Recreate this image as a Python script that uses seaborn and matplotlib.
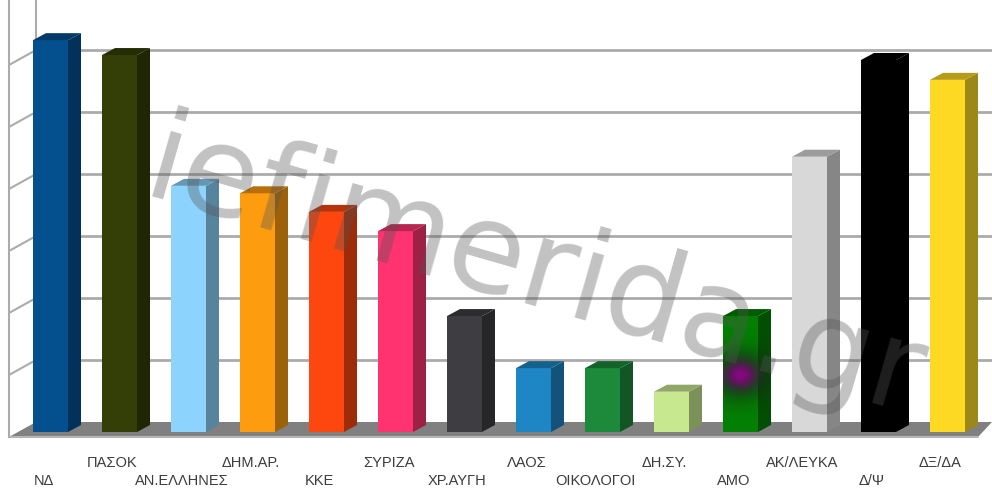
"""
Greek party bar chart with fake 3D depth and a watermark.
"""

import numpy as np
import matplotlib
matplotlib.use('Agg')
import matplotlib.pyplot as plt
from matplotlib.colors import to_rgb
from matplotlib.patches import Polygon
from matplotlib.transforms import ScaledTranslation
import pandas as pd
import seaborn as sns

parties = ["ΝΔ", "ΠΑΣΟΚ", "ΑΝ.ΕΛΛΗΝΕΣ", "ΔΗΜ.ΑΡ.", "ΚΚΕ", "ΣΥΡΙΖΑ", "ΧΡ.ΑΥΓΗ",
           "ΛΑΟΣ", "ΟΙΚΟΛΟΓΟΙ", "ΔΗ.ΣΥ.", "ΑΜΟ", "ΑΚ/ΛΕΥΚΑ", "Δ/Ψ", "ΔΞ/ΔΑ"]
values = [6.32, 6.08, 3.97, 3.85, 3.55, 3.24, 1.87,
          1.03, 1.03, 0.65, 1.87, 4.44, 6.0, 5.68]
bar_colors = ["#04508f", "#343e07", "#8cd3fe", "#fe9c10", "#fe470e", "#fe3370", "#3d3d42",
              "#1e86c4", "#1c8a3a", "#c8e88f", "#038003", "#d8d8d8", "#000000", "#fed923"]
wall_lines = [1, 2, 3, 4, 5, 6]

# pixel sizes of one unit on each axis
PX_X = 1 / 69
PX_Y = 1 / 62
GRID = "#ababab"

sns.set_style("white")
plt.rcParams["font.family"] = ["Liberation Sans", "DejaVu Sans"]

fig = plt.figure(figsize=(9.92, 4.96), dpi=100)
ax = fig.add_axes([0, 64 / 496, 1, 432 / 496])

df = pd.DataFrame({"party": parties, "value": values})
sns.barplot(data=df, x="party", y="value", hue="party", palette=bar_colors,
            saturation=1, width=35 / 69, legend=False, ax=ax, zorder=3, linewidth=0)
ax.set_xlim(-50.5 * PX_X, (992 - 50.5) * PX_X)
ax.set_ylim(0, 432 * PX_Y)
ax.set_xlabel("")
ax.set_ylabel("")
ax.set_yticks([])
sns.despine(ax=ax, left=True, bottom=True, top=True, right=True)

# depth on the top and right of every bar
bar_dx = 13 * PX_X
bar_dy = 7 * PX_Y
for patch, color in zip(list(ax.patches), bar_colors):
    x0 = patch.get_x()
    x1 = x0 + patch.get_width()
    top = patch.get_height()
    rgb = np.array(to_rgb(color))
    side = [(x1, 0), (x1 + bar_dx, bar_dy), (x1 + bar_dx, top + bar_dy), (x1, top)]
    roof = [(x0, top), (x0 + bar_dx, top + bar_dy), (x1 + bar_dx, top + bar_dy), (x1, top)]
    ax.add_patch(Polygon(side, facecolor=rgb * 0.62, edgecolor="none", zorder=3))
    ax.add_patch(Polygon(roof, facecolor=rgb * 0.72, edgecolor="none", zorder=3))

# floor and walls, offset from the bar plane
left = ax.get_xlim()[0]
right = ax.get_xlim()[1]
wall_x0 = left + 9 * PX_X
wall_x1 = left + 36 * PX_X
front_y = -5 * PX_Y
back_y = 10 * PX_Y
floor = [(wall_x0, front_y), (wall_x1, back_y), (right, back_y),
         (right - 14 * PX_X, front_y)]
ax.add_patch(Polygon(floor, facecolor="#808080", edgecolor="none", zorder=1, clip_on=False))
ax.plot([wall_x0, right - 14 * PX_X], [front_y, front_y], color="#b5b5b5", lw=1.5,
        zorder=1, clip_on=False)
ax.plot([wall_x0, wall_x0], [front_y, ax.get_ylim()[1]], color=GRID, lw=1.5, zorder=1,
        clip_on=False)
ax.plot([wall_x1, wall_x1], [back_y, ax.get_ylim()[1]], color=GRID, lw=1.5, zorder=1)
for k in wall_lines:
    ax.plot([wall_x1, right], [k + back_y, k + back_y], color=GRID, lw=2, zorder=1)
    ax.plot([wall_x0, wall_x1], [k + front_y, k + back_y], color=GRID, lw=1.5, zorder=1)

# purple smudge on the ΑΜΟ bar, dark at its rim, runs over the side face too
amo = ax.patches[parties.index("ΑΜΟ")]
amo_x0 = amo.get_x()
amo_x1 = amo_x0 + amo.get_width() + bar_dx
cx = amo_x0 + amo.get_width() / 2
cy = 57 * PX_Y
xx, yy = np.meshgrid(np.linspace(amo_x0, amo_x1, 60), np.linspace(0, amo.get_height(), 80))
dist = ((xx - cx) / (17 * PX_X)) ** 2 + ((yy - cy) / (14 * PX_Y)) ** 2
core = np.exp(-dist)[..., None]
rgba = np.zeros(dist.shape + (4,))
rgba[..., :3] = core * np.array(to_rgb("#840a80")) + (1 - core) * np.array(to_rgb("#15261a"))
rgba[..., 3] = np.clip(np.exp(-dist / 2.6) * 1.1, 0, 1)
ax.imshow(rgba, extent=(amo_x0, amo_x1, 0, amo.get_height()), origin="lower", aspect="auto",
          zorder=3.5, interpolation="bilinear")
ax.set_xlim(left, right)
ax.set_ylim(0, 432 * PX_Y)

# staggered category labels, nudged left of the bars
ax.set_xticks(range(len(parties)))
ax.set_xticklabels(parties, fontsize=10.5, color="#3c3c3c")
nudge = ScaledTranslation(-7 / 100, 0, fig.dpi_scale_trans)
for i, tick in enumerate(ax.xaxis.get_major_ticks()):
    tick.tick1line.set_visible(False)
    tick.set_pad(27 if i % 2 == 0 else 14)
    tick.label1.set_transform(tick.label1.get_transform() + nudge)

fig.text(0.141, 0.605, "iefimerida.gr", fontsize=90, color="#555555",
         alpha=0.36, rotation=-16, rotation_mode="anchor", ha="left", va="baseline",
         family="DejaVu Sans", zorder=10)

fig.savefig("out.png", dpi=100)
plt.close(fig)
